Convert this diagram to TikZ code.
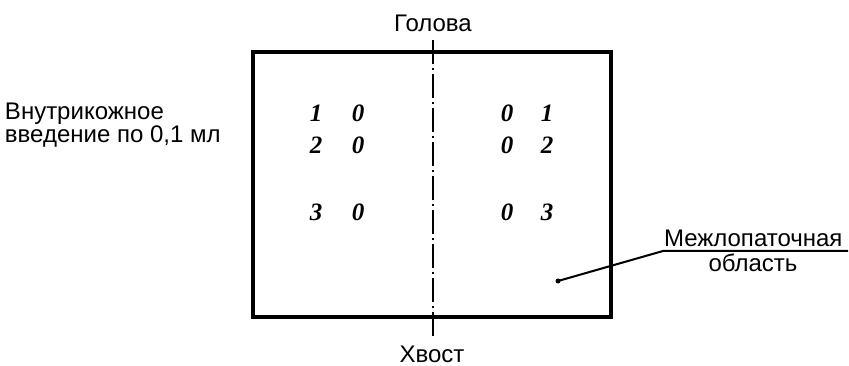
\documentclass[tikz,border=0pt]{standalone}
\usepackage{fontspec}
\setmainfont{Liberation Sans}
\newfontfamily\digitfont{Liberation Serif}
\begin{document}
\begin{tikzpicture}[x=1pt,y=-1pt,inner sep=0pt,outer sep=0pt,
lbl/.style={font=\fontsize{24}{24}\selectfont},
num/.style={font=\digitfont\bfseries\itshape\fontsize{25}{25}\selectfont},
axis/.style={line width=2pt,dash pattern=on 24pt off 4pt on 2pt off 4pt}]
\useasboundingbox (0,0) rectangle (849,366);
\draw[line width=4pt] (253,52) rectangle (611,317);
\coordinate (top) at (433,40);
\coordinate (bot) at (433,338);
\draw[axis] (top) -- (bot);
\draw (433,32) node[lbl,anchor=base] (head) {Голова};
\draw (432,362) node[lbl,anchor=base] (tail) {Хвост};
\draw (5,120) node[lbl,anchor=base west] (inj1) {Внутрикожное};
\draw (5,143) node[lbl,anchor=base west] (inj2) {введение по 0,1 мл};
\foreach \n/\y in {1/113,2/145,3/212} {
  \draw (316,\y) node[num] (l\n) {\n};
  \draw (358,\y) node[num] (lz\n) {0};
  \draw (507,\y) node[num] (rz\n) {0};
  \draw (547,\y) node[num] (r\n) {\n};
}
\draw (664,247) node[lbl,anchor=base west] (area) {Межлопаточная};
\draw (753,272) node[lbl,anchor=base] (area2) {область};
\coordinate (spot) at (558,281);
\coordinate (knee) at (663,251);
\coordinate (lineend) at (848,251);
\fill (spot) circle (2.5pt);
\draw[line width=2pt] (spot) -- (knee) -- (lineend);
\end{tikzpicture}
\end{document}
